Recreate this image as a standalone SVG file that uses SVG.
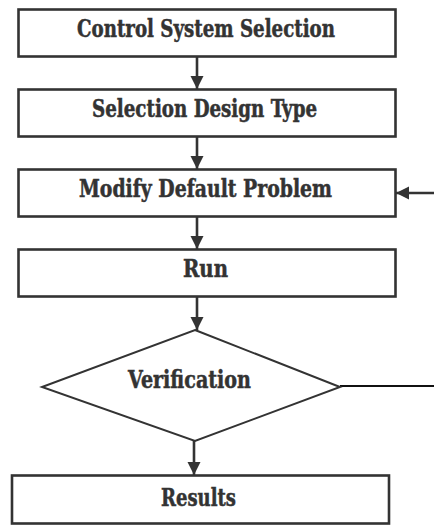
<svg xmlns="http://www.w3.org/2000/svg" width="434" height="525" viewBox="0 0 434 525">
  <style>
    .box { fill: #ffffff; stroke: #333333; stroke-width: 2.6; }
    .dia { fill: #ffffff; stroke: #333333; stroke-width: 2; }
    .lbl { font-family: "DejaVu Serif Condensed", "DejaVu Serif", "Liberation Serif", serif; font-weight: bold; font-size: 25px; fill: #333333; stroke: #333333; stroke-width: 0.5; text-anchor: middle; }
    .wire { fill: none; stroke: #333333; stroke-width: 2.6; }
  </style>
  <defs>
    <marker id="tip" viewBox="0 0 10 10" refX="10" refY="5" markerWidth="5" markerHeight="5.5" orient="auto" markerUnits="strokeWidth">
      <path d="M0,0 L10,5 L0,10 Z" fill="#333333"/>
    </marker>
  </defs>

  <rect width="434" height="525" fill="#ffffff"/>

  <g id="connectors">
    <line class="wire" x1="197" y1="57" x2="197" y2="89" marker-end="url(#tip)"/>
    <line class="wire" x1="197" y1="137" x2="197" y2="169" marker-end="url(#tip)"/>
    <line class="wire" x1="197" y1="217" x2="197" y2="249" marker-end="url(#tip)"/>
    <line class="wire" x1="197" y1="297" x2="197" y2="330" marker-end="url(#tip)"/>
    <line class="wire" x1="194" y1="441" x2="194" y2="475" marker-end="url(#tip)"/>
    <line x1="340" y1="386" x2="434" y2="386" stroke="#111111" stroke-width="2"/>
    <line class="wire" x1="434" y1="193" x2="396" y2="193" marker-end="url(#tip)"/>
  </g>

  <g id="control-system-selection">
    <rect class="box" x="18.5" y="9.5" width="377" height="47"/>
    <text class="lbl" x="206" y="37" textLength="258" lengthAdjust="spacingAndGlyphs">Control System Selection</text>
  </g>

  <g id="selection-design-type">
    <rect class="box" x="18.5" y="89.5" width="377" height="47"/>
    <text class="lbl" x="204.5" y="117" textLength="225" lengthAdjust="spacingAndGlyphs">Selection Design Type</text>
  </g>

  <g id="modify-default-problem">
    <rect class="box" x="18.5" y="169.5" width="377" height="47"/>
    <text class="lbl" x="205.5" y="197" textLength="253" lengthAdjust="spacingAndGlyphs">Modify Default Problem</text>
  </g>

  <g id="run">
    <rect class="box" x="18.5" y="249.5" width="377" height="47"/>
    <text class="lbl" x="205.5" y="277" textLength="45" lengthAdjust="spacingAndGlyphs">Run</text>
  </g>

  <g id="verification">
    <polygon class="dia" points="195,330 340,387 195,441 42,387"/>
    <text class="lbl" x="189.5" y="388" textLength="123" lengthAdjust="spacingAndGlyphs">Verification</text>
  </g>

  <g id="results">
    <rect class="box" x="12" y="475.5" width="377" height="48"/>
    <text class="lbl" x="198.5" y="506" textLength="75" lengthAdjust="spacingAndGlyphs">Results</text>
  </g>
</svg>
